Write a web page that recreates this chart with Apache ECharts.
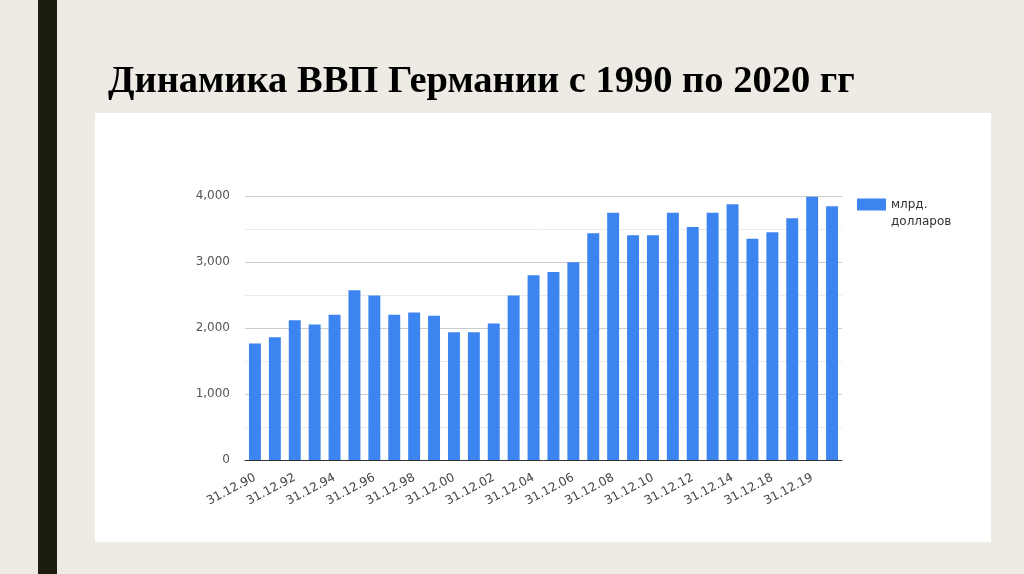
<!DOCTYPE html>
<html><head><meta charset="utf-8">
<script src="https://cdn.jsdelivr.net/npm/echarts@6/dist/echarts.min.js"></script>
<style>html,body{margin:0;padding:0;background:#eeebe4;}#c{width:1024px;height:574px;}</style>
</head><body><div id="c"></div>
<script>
const titleText = 'Динамика ВВП Германии с 1990 по 2020 гг';
const seriesName = 'млрд. долларов';
const categories = ['31.12.90','31.12.91','31.12.92','31.12.93','31.12.94','31.12.95','31.12.96','31.12.97','31.12.98','31.12.99',
  '31.12.00','31.12.01','31.12.02','31.12.03','31.12.04','31.12.05','31.12.06','31.12.07','31.12.08','31.12.09',
  '31.12.10','31.12.11','31.12.12','31.12.13','31.12.14','31.12.17','31.12.18','30.06.19','31.12.19','30.06.20'];
const values = [1765,1861,2119,2053,2199,2573,2492,2199,2235,2184,
  1937,1937,2068,2492,2800,2850,2996,3435,3748,3405,
  3405,3748,3531,3748,3874,3354,3450,3662,3990,3844];
const yTicks = [0,1000,2000,3000,4000];

const axisFont = '"DejaVu Sans", Arial, sans-serif';
const chart = echarts.init(document.getElementById('c'));
chart.setOption({
  backgroundColor: '#eeebe4',
  animation: false,
  graphic: [
    {type:'rect', shape:{x:38,y:0,width:19,height:574}, style:{fill:'#1c1c10'}, z:-10},
    {type:'rect', shape:{x:95,y:113,width:896,height:429}, style:{fill:'#ffffff'}, z:-10},
    {type:'text', x:108, y:82, style:{text:titleText, font:'bold 38.5px "Liberation Serif", "Times New Roman", serif', fill:'#000', verticalAlign:'middle', align:'left'}}
  ],
  grid: {left:245, right:182, top:196, bottom:114, containLabel:false},
  legend: {
    left: 857, top: 179, orient:'vertical', padding:0,
    itemWidth: 29, itemHeight: 12, itemGap: 6,
    icon: 'rect',
    formatter: () => ' \nмлрд.\nдолларов',
    textStyle: {fontFamily:axisFont, fontSize:12, color:'#333', lineHeight:17},
    data: [seriesName]
  },
  xAxis: {
    type:'category', data: categories,
    axisLine:{show:true, lineStyle:{color:'#333', width:1}},
    axisTick:{show:false},
    axisLabel:{interval:1, rotate:28, fontSize:12, color:'#444', fontFamily:axisFont, margin:17}
  },
  yAxis: {
    type:'value', min: yTicks[0], max: yTicks[yTicks.length-1], interval:1000,
    axisLine:{show:false}, axisTick:{show:false},
    axisLabel:{fontSize:12, color:'#555', margin:15, fontFamily:axisFont,
      formatter: v => v.toLocaleString('en-US')},
    splitLine:{lineStyle:{color:'#cccccc', width:1}},
    minorTick:{show:false, splitNumber:2},
    minorSplitLine:{show:true, lineStyle:{color:'#ebebeb', width:1}}
  },
  series: [{
    name: seriesName, type:'bar', data: values,
    barCategoryGap:'40%',
    itemStyle:{color:'#3c84f0'}
  }]
});
</script></body></html>
